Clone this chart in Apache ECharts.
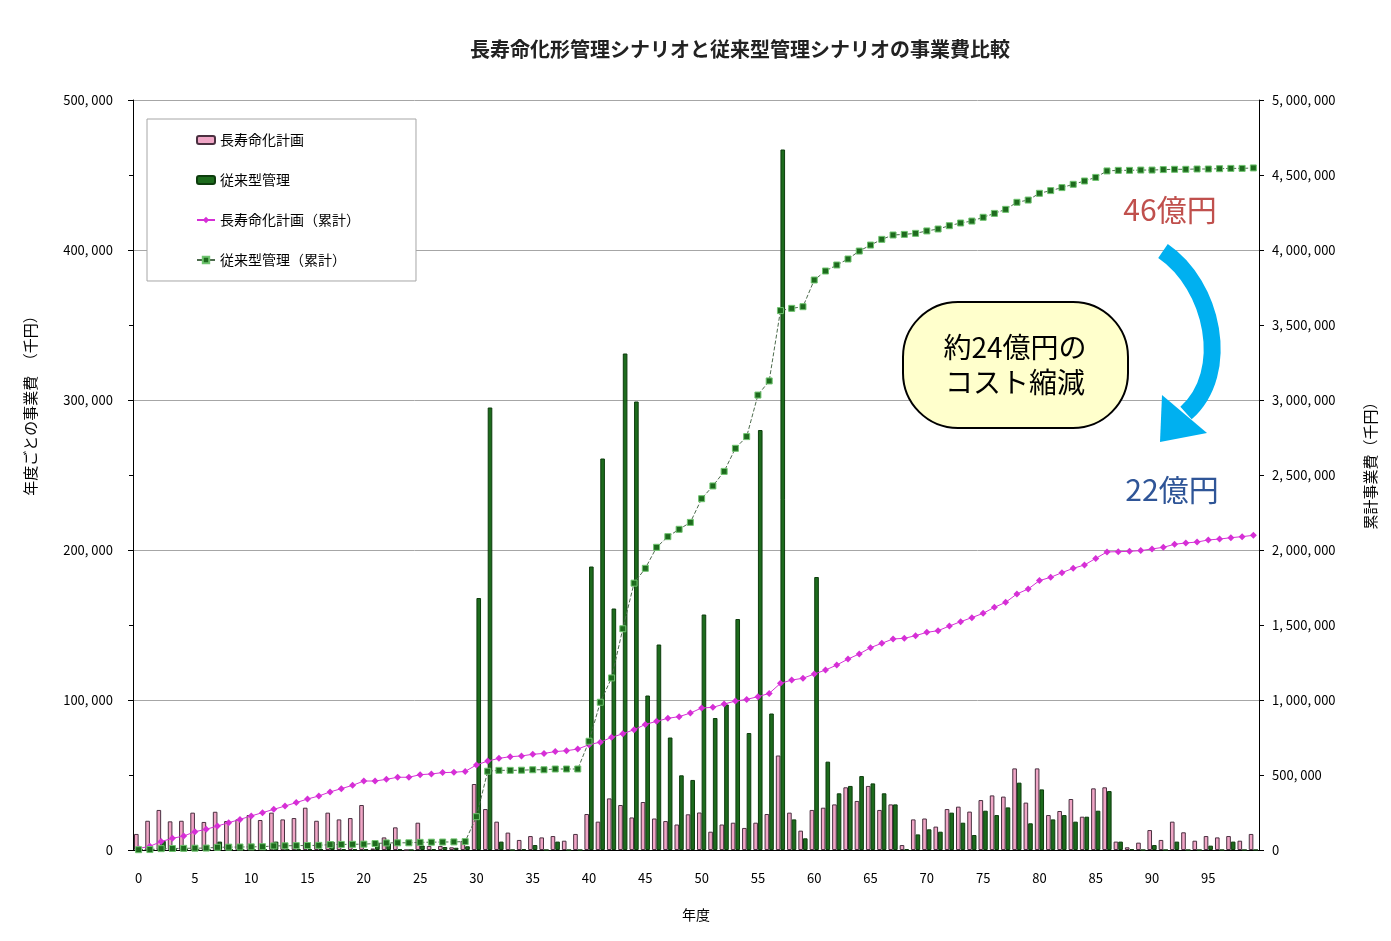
<!DOCTYPE html>
<html>
<head>
<meta charset="utf-8">
<script src="https://cdn.jsdelivr.net/npm/echarts@6/dist/echarts.min.js"></script>
<style>
  html, body { margin: 0; padding: 0; background: #fff; }
  #chart { width: 1391px; height: 941px; }
</style>
</head>
<body>
<div id="chart"></div>
<script>
// 年度 0..99
var years = [];
for (var i = 0; i < 100; i++) years.push(String(i));

// 年度ごとの事業費（千円）
var lifeExtBars = [
  10700, 19500, 26700, 19100, 19500, 24900, 18700, 25500, 19300, 20400,
  23300, 20000, 24900, 20400, 21300, 28200, 19500, 24900, 20400, 21300,
  30000, 1000, 8400, 15100, 0, 18200, 2700, 2700, 1800, 6000,
  44000, 27300, 18900, 11600, 6700, 9300, 8400, 9300, 6200, 10700,
  24000, 18900, 34400, 30000, 21700, 32000, 21000, 19300, 17000, 23800,
  25000, 12200, 17000, 18200, 14700, 18200, 24000, 63000, 24900, 12900,
  26700, 28200, 30400, 41800, 32700, 42700, 26700, 30400, 3300, 20400,
  21000, 15600, 27300, 28900, 25600, 33300, 36400, 35600, 54400, 31600,
  54400, 23300, 26000, 34000, 22200, 41100, 41800, 5600, 1800, 4900,
  13300, 6700, 18900, 11800, 6200, 9300, 8400, 9300, 6200, 10700
];
var conventionalBars = [
  500, 500, 6000, 500, 500, 500, 500, 5600, 500, 500,
  500, 500, 5600, 500, 500, 500, 500, 5600, 500, 500,
  500, 4900, 4400, 500, 0, 3000, 500, 2000, 1500, 2500,
  168000, 295000, 5600, 0, 500, 3300, 0, 5600, 0, 0,
  189000, 261000, 161000, 331000, 299000, 103000, 137000, 75000, 49800, 46700,
  157000, 88000, 97000, 154000, 78000, 280000, 91000, 467000, 20400, 7800,
  182000, 58900, 37800, 42700, 49300, 44400, 37800, 30400, 500, 10400,
  13800, 12200, 24900, 18200, 10000, 26200, 23300, 28400, 44900, 17800,
  40400, 20400, 23300, 18900, 22200, 26200, 39300, 5600, 500, 0,
  3300, 0, 5600, 0, 0, 2900, 0, 5600, 0, 0
];

// 累計事業費（千円）
var lifeExtCum = [
  10000, 25000, 56000, 78000, 93000, 122000, 138000, 160000, 182000, 204000,
  227000, 249000, 271000, 293000, 316000, 340000, 360000, 387000, 409000, 431000,
  460000, 460000, 471000, 485000, 485000, 502000, 507000, 516000, 518000, 524000,
  567000, 593000, 611000, 622000, 627000, 638000, 644000, 656000, 662000, 673000,
  702000, 719000, 751000, 775000, 802000, 837000, 858000, 878000, 889000, 913000,
  947000, 951000, 973000, 993000, 1004000, 1022000, 1044000, 1111000, 1133000, 1145000,
  1173000, 1200000, 1233000, 1273000, 1307000, 1349000, 1378000, 1407000, 1411000, 1429000,
  1451000, 1462000, 1493000, 1522000, 1549000, 1578000, 1618000, 1651000, 1707000, 1740000,
  1796000, 1818000, 1849000, 1878000, 1900000, 1944000, 1987000, 1989000, 1991000, 1996000,
  2007000, 2018000, 2038000, 2047000, 2053000, 2067000, 2073000, 2082000, 2089000, 2098000
];
var conventionalCum = [
  2000, 3000, 9000, 10000, 11000, 12000, 13000, 18000, 19000, 20000,
  21000, 22000, 27000, 28000, 29000, 30000, 31000, 36000, 37000, 38000,
  39000, 43000, 47000, 48000, 48000, 51000, 52000, 53000, 54000, 56000,
  222000, 525000, 531000, 531000, 532000, 535000, 535000, 540000, 540000, 540000,
  725000, 985000, 1147000, 1475000, 1779000, 1878000, 2018000, 2089000, 2138000, 2184000,
  2342000, 2427000, 2524000, 2678000, 2756000, 3033000, 3127000, 3596000, 3611000, 3622000,
  3800000, 3860000, 3900000, 3940000, 3993000, 4033000, 4071000, 4100000, 4104000, 4111000,
  4127000, 4140000, 4162000, 4180000, 4193000, 4218000, 4244000, 4271000, 4318000, 4333000,
  4378000, 4396000, 4416000, 4438000, 4460000, 4484000, 4527000, 4531000, 4531000, 4533000,
  4533000, 4536000, 4538000, 4538000, 4540000, 4540000, 4542000, 4544000, 4544000, 4547000
];

var seriesNames = ['長寿命化計画', '従来型管理', '長寿命化計画（累計）', '従来型管理（累計）'];

var FONT = '"Noto Sans CJK JP", "Noto Sans", sans-serif';
var pink = '#f0a6c6', green = '#1d6b1d', magenta = '#d62fd6', grid = '#a6a6a6';

function fmt(v) {
  return v.toLocaleString('en-US').replace(/,/g, ', ');
}

var chart = echarts.init(document.getElementById('chart'));
chart.setOption({
  animation: false,
  backgroundColor: '#fff',
  textStyle: { fontFamily: FONT },
  title: {
    text: '長寿命化形管理シナリオと従来型管理シナリオの事業費比較',
    left: 735, top: 34, textAlign: 'center',
    textStyle: { fontSize: 20, fontWeight: 'bold', color: '#222', fontFamily: FONT }
  },
  legend: {
    data: seriesNames,
    orient: 'vertical',
    left: 147, top: 119,
    itemWidth: 18, itemHeight: 8, itemGap: 26,
    padding: [14, 56, 14, 49],
    backgroundColor: '#fff',
    borderColor: grid, borderWidth: 1, borderRadius: 0,
    textStyle: { fontSize: 14, color: '#000', fontFamily: FONT }
  },
  grid: { left: 133, right: 132, top: 100, bottom: 91 },
  xAxis: {
    type: 'category',
    data: years,
    axisLine: { lineStyle: { color: '#000', width: 1 } },
    axisTick: { interval: 4, length: 4, lineStyle: { color: '#000' } },
    axisLabel: { interval: 4, margin: 22, fontSize: 13, color: '#000' }
  },
  yAxis: [{
    type: 'value', min: 0, max: 500000, interval: 100000,
    position: 'left',
    axisLine: { show: true, lineStyle: { color: '#000' } },
    axisTick: { show: true, length: 5, lineStyle: { color: '#000' } },
    minorTick: { show: true, splitNumber: 2, length: 4, lineStyle: { color: '#000' } },
    splitLine: { lineStyle: { color: grid, width: 1 } },
    axisLabel: { margin: 20, fontSize: 13, color: '#000', formatter: fmt }
  }, {
    type: 'value', min: 0, max: 5000000, interval: 500000,
    position: 'right',
    axisLine: { show: true, lineStyle: { color: '#000' } },
    axisTick: { show: true, length: 5, lineStyle: { color: '#000' } },
    splitLine: { show: false },
    axisLabel: { margin: 13, fontSize: 13, color: '#000', formatter: fmt }
  }],
  series: [{
    name: seriesNames[0], type: 'bar', data: lifeExtBars,
    barGap: '0%', barCategoryGap: '18%',
    itemStyle: { color: pink, borderColor: '#4a3040', borderWidth: 1 }
  }, {
    name: seriesNames[1], type: 'bar', data: conventionalBars,
    itemStyle: { color: green, borderColor: '#0d3d0d', borderWidth: 1 }
  }, {
    name: seriesNames[2], type: 'line', yAxisIndex: 1, data: lifeExtCum,
    symbol: 'diamond', symbolSize: 7, z: 5,
    lineStyle: { color: magenta, width: 1 },
    itemStyle: { color: magenta }
  }, {
    name: seriesNames[3], type: 'line', yAxisIndex: 1, data: conventionalCum,
    symbol: 'rect', symbolSize: 6, z: 6,
    lineStyle: { color: '#4d6b4d', width: 1, type: 'dashed' },
    itemStyle: { color: green, borderColor: '#6fc46f', borderWidth: 1 }
  }],
  graphic: [
    { type: 'text', x: 30, y: 402, rotation: Math.PI / 2,
      style: { text: '年度ごとの事業費　（千円）', align: 'center', verticalAlign: 'middle',
               font: '15px ' + FONT, fill: '#000' } },
    { type: 'text', x: 1370, y: 462, rotation: Math.PI / 2,
      style: { text: '累計事業費（千円）', align: 'center', verticalAlign: 'middle',
               font: '15px ' + FONT, fill: '#000' } },
    { type: 'text', x: 696, y: 915,
      style: { text: '年度', align: 'center', verticalAlign: 'middle',
               font: '14px ' + FONT, fill: '#000' } },
    { type: 'text', x: 1170, y: 210, z: 100,
      style: { text: '46億円', align: 'center', verticalAlign: 'middle',
               font: '30px ' + FONT, fill: '#c0504d' } },
    { type: 'text', x: 1172, y: 490, z: 100,
      style: { text: '22億円', align: 'center', verticalAlign: 'middle',
               font: '30px ' + FONT, fill: '#2f5597' } },
    { type: 'rect', z: 100,
      shape: { x: 903, y: 302, width: 225, height: 126, r: 55 },
      style: { fill: '#ffffcc', stroke: '#000', lineWidth: 2 } },
    { type: 'text', x: 1015, y: 365, z: 101,
      style: { text: '約24億円の\nコスト縮減', align: 'center', verticalAlign: 'middle',
               font: '28px ' + FONT, lineHeight: 35, fill: '#000' } },
    { type: 'bezierCurve', z: 100,
      shape: { x1: 1163, y1: 251, cpx1: 1213, cpy1: 285, cpx2: 1232, cpy2: 372, x2: 1186, y2: 413 },
      style: { stroke: '#00b0f0', lineWidth: 17, fill: null, lineCap: 'butt' } },
    { type: 'polygon', z: 100,
      shape: { points: [[1162, 395], [1207, 433], [1160, 442]] },
      style: { fill: '#00b0f0' } }
  ]
});
</script>
</body>
</html>
